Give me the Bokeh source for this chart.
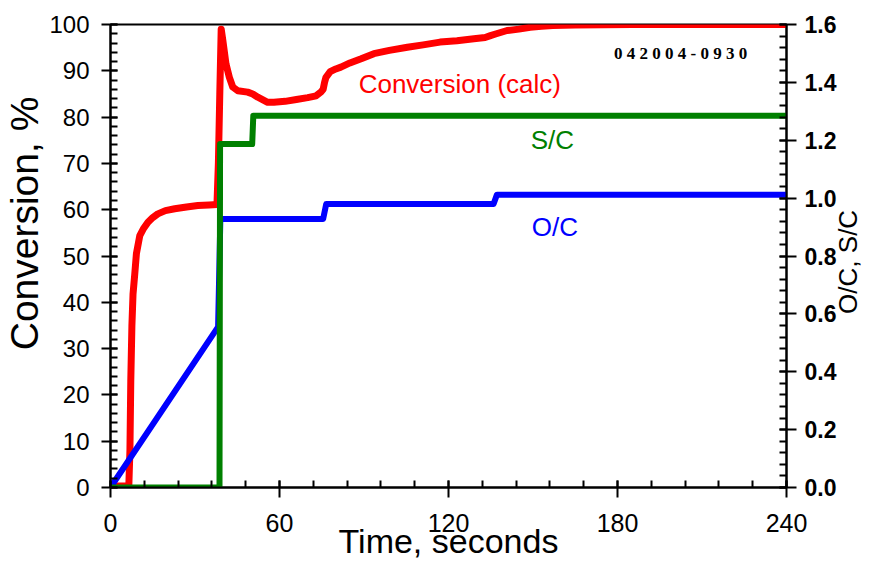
import math
from bokeh.plotting import figure
from bokeh.models import (Range1d, LinearAxis, FixedTicker, PrintfTickFormatter, Label)
from bokeh.embed import file_html
from bokeh.resources import INLINE

# ---------------- data ----------------
conv_t = [0, 6.5, 6.9, 7.2, 7.6, 8.0, 8.6, 9.2, 10.4, 11.8, 13.3, 15, 16.8, 19.5, 22.8, 27, 31, 35,
          37.8, 38.3, 38.8, 39.3, 39.9, 41.0, 42.2, 43.4, 45.2, 48.7, 50.5, 52.3, 55.8, 58, 62, 66,
          70, 73, 74.7, 75.5, 76.0, 76.5, 78, 80, 81.8, 85, 89, 93.5, 99, 105.4, 111, 117, 123,
          129, 133, 134.9, 137, 140.8, 145, 149, 153, 157, 165, 185, 200, 240]
conv_v = [0.3, 0.3, 8, 23, 35, 41.8, 46, 50.5, 54.4, 56, 57.3, 58.3, 59.1, 59.8, 60.2, 60.6, 60.9, 61.0,
          61.1, 70, 85, 99, 96.5, 91.5, 88.6, 86.5, 85.7, 85.4, 85.0, 84.3, 83.2, 83.2, 83.4, 83.8,
          84.2, 84.6, 85.4, 86, 87.5, 88.6, 89.8, 90.4, 90.8, 91.7, 92.6, 93.7, 94.4, 95.1, 95.6, 96.2, 96.5,
          96.9, 97.2, 97.6, 98.0, 98.7, 99.0, 99.4, 99.6, 99.8, 99.9, 100, 100, 100]

oc_t = [0, 38.2, 39.0, 75.5, 76.6, 136.0, 137.2, 240]
oc_v = [0, 0.555, 0.928, 0.928, 0.980, 0.980, 1.012, 1.012]

sc_t = [0, 38.7, 38.9, 50.3, 50.7, 240]
sc_v = [0, 0, 1.187, 1.187, 1.285, 1.285]

x_ticks = [0, 60, 120, 180, 240]
x_minor = list(range(0, 241, 12))
y_ticks = list(range(0, 101, 10))
y_minor = list(range(0, 101, 2))
r_ticks = [0.0, 0.2, 0.4, 0.6, 0.8, 1.0, 1.2, 1.4, 1.6]
r_minor = [round(i * 0.04, 2) for i in range(41)]

NBSP = "\u00a0"
R_TITLE = "O/C, S/C"
R_TITLE_POS = 0.6   # where the right title starts, in right-axis units

# ---------------- figure ----------------
p = figure(width=880, height=562, x_range=Range1d(0, 240), y_range=Range1d(0, 100),
           output_backend="svg", toolbar_location=None,
           min_border_left=109, min_border_right=93, min_border_top=24, min_border_bottom=75)
p.extra_y_ranges = {"r": Range1d(0, 1.6)}
p.xgrid.visible = False
p.ygrid.visible = False
p.outline_line_color = "black"
p.outline_line_width = 2
p.background_fill_color = "white"
p.border_fill_color = "white"

def style_axis(ax, tin, tout, mtin, lab_font, lab_size, lab_style, standoff):
    ax.axis_line_width = 2
    ax.axis_line_color = "black"
    ax.major_tick_line_width = 2
    ax.minor_tick_line_width = 2
    ax.major_tick_in = tin
    ax.major_tick_out = tout
    ax.minor_tick_in = mtin
    ax.minor_tick_out = 0
    ax.major_label_text_font = lab_font
    ax.major_label_text_font_size = lab_size
    ax.major_label_text_font_style = lab_style
    ax.major_label_text_color = "black"
    ax.major_label_standoff = standoff
    ax.axis_label_text_color = "black"
    ax.axis_label_text_font_style = "normal"
    ax.axis_label_text_font = "Liberation Sans"

xa = p.xaxis[0]
xa.ticker = FixedTicker(ticks=x_ticks, minor_ticks=x_minor)
style_axis(xa, 7, 10, 7, "Liberation Sans", "25px", "normal", 16)
xa.axis_label = "Time, seconds"
xa.axis_label_text_font_size = "34px"
xa.axis_label_standoff = -13

ya = p.yaxis[0]
ya.ticker = FixedTicker(ticks=y_ticks, minor_ticks=y_minor)
style_axis(ya, 7, 9, 7, "Liberation Sans", "24px", "normal", 12)
ya.axis_label = NBSP * 6 + "Conversion, %"
ya.axis_label_text_font_size = "39px"
ya.axis_label_standoff = 0

# right value axis (ticks + numbers)
ra = LinearAxis(y_range_name="r", ticker=FixedTicker(ticks=r_ticks, minor_ticks=r_minor),
                formatter=PrintfTickFormatter(format="%.1f"))
style_axis(ra, 7, 10, 7, "Liberation Sans", "23px", "bold", 8)
p.add_layout(ra, "right")

# right title, drawn as a rotated label of a bare outer axis (reads bottom-to-top)
rt = LinearAxis(y_range_name="r", ticker=FixedTicker(ticks=[R_TITLE_POS], minor_ticks=[]),
                major_label_overrides={R_TITLE_POS: R_TITLE, str(R_TITLE_POS): R_TITLE})
rt.axis_line_color = None
rt.major_tick_line_color = None
rt.minor_tick_line_color = None
rt.major_tick_in = 0
rt.major_tick_out = 0
rt.minor_tick_in = 0
rt.minor_tick_out = 0
rt.major_label_text_font = "Liberation Sans"
rt.major_label_text_font_size = "26px"
rt.major_label_text_color = "black"
rt.major_label_orientation = math.pi / 2
rt.major_label_standoff = 8
p.add_layout(rt, "right")

# ---------------- lines ----------------
p.line(conv_t, conv_v, line_color="#FF0000", line_width=7, line_join="round")
p.line(oc_t, oc_v, line_color="#0000FF", line_width=6, line_join="round", y_range_name="r")
p.line(sc_t, sc_v, line_color="#008000", line_width=6, line_join="round", y_range_name="r")

# ---------------- annotations ----------------
def lab(x, y, text, color="black", size="26px", font="Liberation Sans", style="normal"):
    p.add_layout(Label(x=x, y=y, text=text, text_color=color, text_font_size=size,
                       text_font=font, text_font_style=style, text_align="left",
                       text_baseline="alphabetic"))

lab(88.1, 87.2, "Conversion (calc)", color="#FF0000")
lab(149.2, 75.1, "S/C", color="#008000")
lab(149.6, 56.2, "O/C", color="#0000FF")
lab(178.8, 93.8, "0 4 2 0 0 4 - 0 9 3 0", size="17px", font="Liberation Serif", style="bold")

open("out.html", "w").write(file_html(p, INLINE))
